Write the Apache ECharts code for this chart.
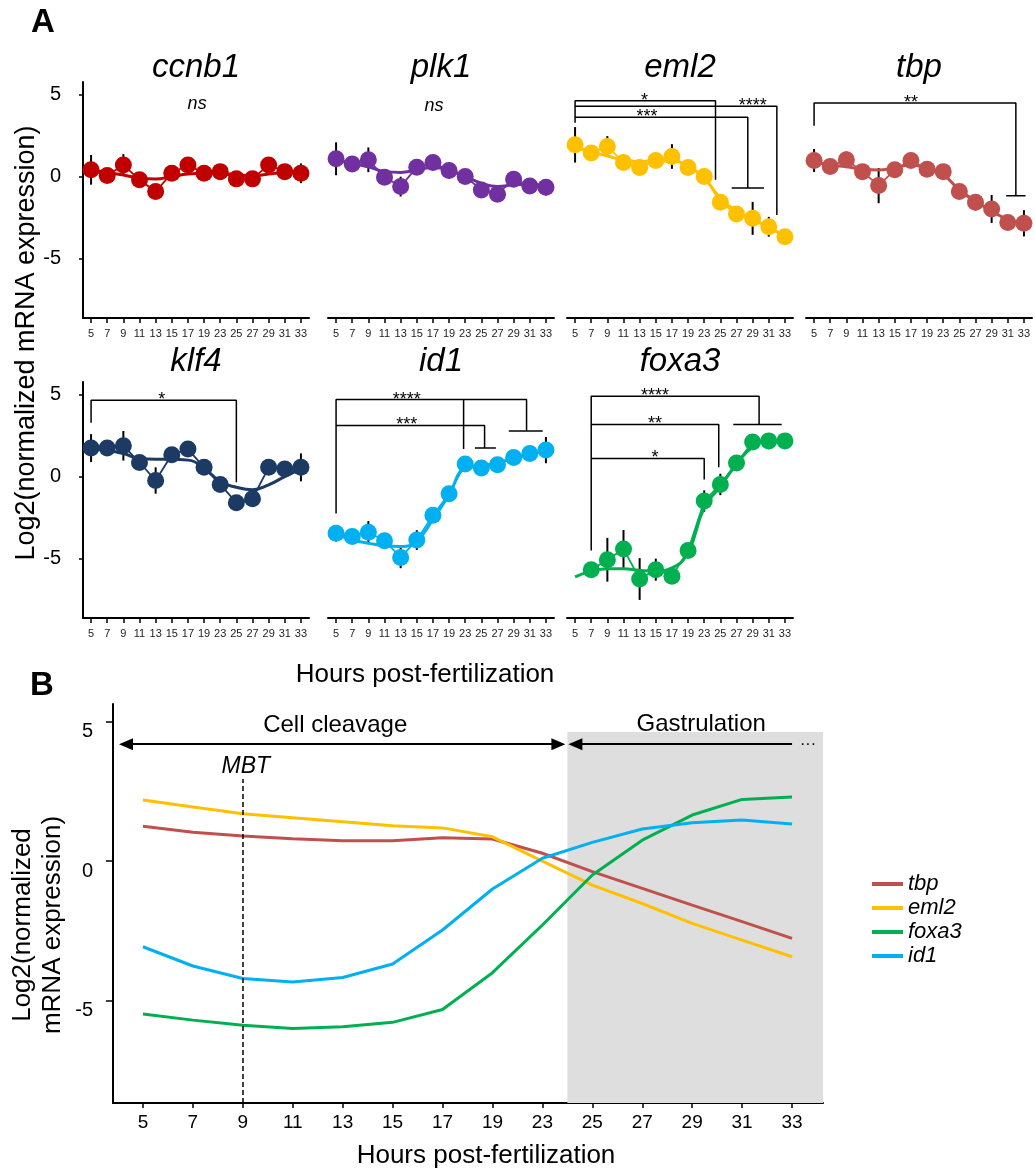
<!DOCTYPE html>
<html>
<head>
<meta charset="utf-8">
<script src="https://cdn.jsdelivr.net/npm/echarts@6/dist/echarts.min.js"></script>
<style>
html, body { margin: 0; padding: 0; background: #fff; }
#chart { width: 1035px; height: 1174px; }
</style>
</head>
<body>
<div id="chart"></div>
<script>
const hours = ['5', '7', '9', '11', '13', '15', '17', '19', '23', '25', '27', '29', '31', '33'];
const yTicks = [-5, 0, 5];

// panel A: means, error bars, fitted curve
const ccnb1Mean = [0.41, 0.06, 0.71, -0.2, -0.91, 0.2, 0.71, 0.2, 0.3, -0.14, -0.14, 0.71, 0.3, 0.2];
const ccnb1Err = [0.9, 0.3, 0.65, 0.3, 0.3, 0.3, 0.3, 0.3, 0.3, 0.2, 0.2, 0.3, 0.3, 0.6];
const ccnb1Fit = [0.4, 0.25, 0.1, -0.1, -0.15, 0.0, 0.15, 0.2, 0.2, 0.1, 0.05, 0.15, 0.25, 0.25];

const plk1Mean = [1.08, 0.77, 1.02, -0.04, -0.61, 0.57, 0.85, 0.37, 0.0, -0.81, -1.07, -0.16, -0.57, -0.65];
const plk1Err = [1.0, 0.3, 0.75, 0.3, 0.6, 0.3, 0.3, 0.5, 0.3, 0.3, 0.3, 0.3, 0.3, 0.5];
const plk1Fit = [1.0, 0.8, 0.6, 0.3, 0.25, 0.4, 0.55, 0.4, 0.0, -0.4, -0.6, -0.5, -0.45, -0.6];

const eml2Mean = [1.93, 1.43, 1.83, 0.86, 0.55, 0.98, 1.22, 0.55, 0.0, -1.56, -2.27, -2.54, -3.05, -3.66];
const eml2Err = [1.08, 0.3, 0.63, 0.4, 0.3, 0.3, 0.75, 0.3, 0.3, 0.3, 0.3, 1.0, 0.6, 0.3];
const eml2Fit = [1.8, 1.5, 1.25, 1.0, 0.9, 0.95, 0.95, 0.6, -0.1, -1.3, -2.1, -2.6, -3.1, -3.6];

const tbpMean = [0.98, 0.61, 1.02, 0.3, -0.55, 0.41, 0.98, 0.45, 0.3, -0.91, -1.56, -1.97, -2.8, -2.84];
const tbpErr = [0.7, 0.3, 0.5, 0.3, 1.07, 0.3, 0.3, 0.3, 0.3, 0.3, 0.5, 0.85, 0.3, 0.8];
const tbpFit = [0.9, 0.7, 0.6, 0.45, 0.4, 0.55, 0.7, 0.5, 0.1, -0.8, -1.5, -2.1, -2.6, -2.9];

const klf4Mean = [1.73, 1.73, 1.87, 0.86, -0.24, 1.33, 1.67, 0.56, -0.48, -1.59, -1.35, 0.56, 0.46, 0.56];
const klf4Err = [0.85, 0.3, 0.9, 0.3, 0.8, 0.3, 0.4, 0.3, 0.3, 0.3, 0.3, 0.3, 0.3, 0.85];
const klf4Fit = [1.7, 1.6, 1.4, 1.1, 1.05, 1.05, 1.0, 0.5, -0.3, -0.65, -0.8, -0.5, 0.0, 0.45];

const id1Mean = [-3.45, -3.65, -3.39, -3.9, -4.92, -3.86, -2.35, -1.04, 0.76, 0.52, 0.72, 1.16, 1.4, 1.61];
const id1Err = [0.5, 0.4, 0.68, 0.3, 0.65, 0.6, 0.3, 0.3, 0.3, 0.3, 0.3, 0.3, 0.3, 0.8];
const id1Fit = [-3.5, -3.85, -4.05, -4.2, -4.25, -3.9, -2.6, -1.1, 0.5, 0.65, 0.85, 1.1, 1.35, 1.55];

const foxa3Mean = [null, -5.66, -5.06, -4.4, -6.23, -5.66, -6.06, -4.5, -1.49, -0.48, 0.82, 2.1, 2.17, 2.17];
const foxa3Err = [null, 0.3, 1.33, 1.15, 1.27, 0.67, 0.3, 0.3, 0.65, 0.65, 0.3, 0.3, 0.3, 0.3];
const foxa3Fit = [-6.1, -5.75, -5.6, -5.6, -5.7, -5.75, -5.55, -4.6, -1.9, -0.6, 0.75, 1.8, 2.15, 2.2];

// significance brackets (x = hour index, y = log2 value) and their labels
const eml2Brackets = [
  [[0, 3.27], [0, 4.61], [8.7, 4.61], [8.7, -0.2]],
  [[0, 4.27], [12.5, 4.27], [12.5, -2.34]],
  [[0, 3.6], [10.7, 3.6], [10.7, -0.7]],
  [[9.7, -0.7], [11.7, -0.7]]
];
const eml2Stars = [['*', 4.3, 4.61], ['****', 11.0, 4.27], ['***', 4.45, 3.6]];
const tbpBrackets = [
  [[0, 3.09], [0, 4.47], [12.5, 4.47], [12.5, -1.16]],
  [[11.9, -1.16], [13.1, -1.16]]
];
const tbpStars = [['**', 6.0, 4.47]];
const klf4Brackets = [[[0, 3.27], [0, 4.64], [9.0, 4.64], [9.0, -0.34]]];
const klf4Stars = [['*', 4.38, 4.64]];
const id1Brackets = [
  [[0, -2.25], [0, 4.68], [11.8, 4.68], [11.8, 2.77]],
  [[10.7, 2.77], [12.8, 2.77]],
  [[7.9, 4.68], [7.9, 1.67]],
  [[0, 3.11], [9.2, 3.11], [9.2, 1.73]],
  [[8.6, 1.73], [9.9, 1.73]]
];
const id1Stars = [['****', 4.38, 4.68], ['***', 4.38, 3.11]];
const foxa3Brackets = [
  [[1, -4.5], [1, 4.88], [11.4, 4.88], [11.4, 3.17]],
  [[9.8, 3.17], [12.8, 3.17]],
  [[1, 3.17], [8.9, 3.17], [8.9, 0.56]],
  [[1, 1.1], [8.0, 1.1], [8.0, -0.18]]
];
const foxa3Stars = [['****', 4.95, 4.88], ['**', 4.95, 3.17], ['*', 4.95, 1.1]];
const nsCcnb1 = [['ns', 6.57, 4.4]];
const nsPlk1 = [['ns', 6.07, 4.3]];

// panel B: fitted trends
const legendNames = ['tbp', 'eml2', 'foxa3', 'id1'];
const tbpTrend = [1.25, 1.03, 0.9, 0.8, 0.73, 0.73, 0.84, 0.79, 0.28, -0.38, -0.98, -1.58, -2.17, -2.77];
const eml2Trend = [2.19, 1.94, 1.7, 1.55, 1.41, 1.27, 1.19, 0.87, 0.0, -0.86, -1.52, -2.23, -2.83, -3.43];
const foxa3Trend = [-5.48, -5.7, -5.88, -6.0, -5.94, -5.78, -5.32, -4.0, -2.29, -0.5, 0.75, 1.65, 2.21, 2.3];
const id1Trend = [-3.07, -3.76, -4.21, -4.33, -4.17, -3.69, -2.47, -1.0, 0.1, 0.67, 1.15, 1.37, 1.47, 1.33];

const FONT = 'Liberation Sans, Arial, Helvetica, sans-serif';
const tickIdx = hours.map((h, i) => i);

const panels = [
  { name: 'ccnb1', color: '#c00000', mean: ccnb1Mean, err: ccnb1Err, fit: ccnb1Fit, brackets: [], stars: nsCcnb1, ns: true },
  { name: 'plk1', color: '#7030a0', mean: plk1Mean, err: plk1Err, fit: plk1Fit, brackets: [], stars: nsPlk1, ns: true },
  { name: 'eml2', color: '#ffc000', mean: eml2Mean, err: eml2Err, fit: eml2Fit, brackets: eml2Brackets, stars: eml2Stars },
  { name: 'tbp', color: '#c0504d', mean: tbpMean, err: tbpErr, fit: tbpFit, brackets: tbpBrackets, stars: tbpStars },
  { name: 'klf4', color: '#1c3a63', mean: klf4Mean, err: klf4Err, fit: klf4Fit, brackets: klf4Brackets, stars: klf4Stars },
  { name: 'id1', color: '#00b0f0', mean: id1Mean, err: id1Err, fit: id1Fit, brackets: id1Brackets, stars: id1Stars },
  { name: 'foxa3', color: '#00b050', mean: foxa3Mean, err: foxa3Err, fit: foxa3Fit, brackets: foxa3Brackets, stars: foxa3Stars }
];

const colLeft = [83, 328, 567, 806];
const rowTop = [82, 382];
const titleY = [68, 362];

const grids = [], xAxes = [], yAxes = [], series = [], graphics = [];

const errorBarRender = (params, api) => {
  const lo = api.coord([api.value(0), api.value(1)]);
  const hi = api.coord([api.value(0), api.value(2)]);
  return {
    type: 'line',
    shape: { x1: lo[0], y1: lo[1], x2: hi[0], y2: hi[1] },
    style: { stroke: '#000', lineWidth: 2 }
  };
};

const textEl = (text, x, y, size, extra) => Object.assign({
  type: 'text', x: x, y: y,
  style: Object.assign({
    text: text, fill: '#000', fontSize: size, fontFamily: FONT,
    align: 'center', verticalAlign: 'middle', textAlign: 'center', textVerticalAlign: 'middle'
  }, extra || {})
});

// plain black text label, no halo, full opacity
const plainLabel = {
  show: true, position: 'inside', formatter: '{b}', color: '#000', opacity: 1,
  textBorderWidth: 0, textBorderColor: 'transparent', fontFamily: FONT
};
const textOnly = {
  type: 'scatter', silent: true, symbolSize: 0,
  itemStyle: { color: '#000', opacity: 1 },
  emphasis: { disabled: true }
};

panels.forEach((p, i) => {
  const row = i < 4 ? 0 : 1;
  const col = i % 4;
  grids.push({ left: colLeft[col], top: rowTop[row], width: 226, height: 236 });
  xAxes.push({
    type: 'value', gridIndex: i, min: -0.5, max: 13.5,
    axisLine: { show: true, onZero: false, lineStyle: { color: '#000', width: 2 } },
    axisTick: { show: true, customValues: tickIdx, length: 5, lineStyle: { color: '#000', width: 1.5 } },
    axisLabel: { customValues: tickIdx, formatter: v => hours[Math.round(v)], fontSize: 11, margin: 10, color: '#222', fontFamily: FONT },
    splitLine: { show: false }
  });
  if (col === 0) {
    yAxes.push({
      type: 'value', gridIndex: i, min: -8.6, max: 5.75,
      axisLine: { show: true, onZero: false, lineStyle: { color: '#000', width: 2 } },
      axisTick: { show: true, customValues: yTicks, length: 4, lineStyle: { color: '#000', width: 1.5 } },
      axisLabel: { customValues: yTicks, fontSize: 20, margin: 22, color: '#000', fontFamily: FONT },
      splitLine: { show: false }
    });
  } else {
    yAxes.push({ type: 'value', gridIndex: i, min: -8.6, max: 5.75, show: false });
  }

  const pts = p.mean.map((v, k) => [k, v]).filter(d => d[1] != null);
  const bars = p.mean.map((v, k) => v == null ? null : [k, v - p.err[k], v + p.err[k]]).filter(d => d);

  series.push({
    type: 'custom', xAxisIndex: i, yAxisIndex: i, z: 1, silent: true,
    data: bars, renderItem: errorBarRender
  });
  series.push({
    type: 'line', xAxisIndex: i, yAxisIndex: i, z: 2, silent: true, smooth: 0.5,
    data: p.fit.map((v, k) => [k, v]), symbol: 'none',
    lineStyle: { color: p.color, width: 3 }
  });
  series.push({
    type: 'line', xAxisIndex: i, yAxisIndex: i, z: 2, silent: true,
    data: pts, symbol: 'none', lineStyle: { color: p.color, width: 1.8 }
  });
  series.push({
    type: 'scatter', xAxisIndex: i, yAxisIndex: i, z: 3, silent: true,
    data: pts, symbolSize: 17, itemStyle: { color: p.color, opacity: 1 }
  });
  p.brackets.forEach(path => {
    series.push({
      type: 'line', xAxisIndex: i, yAxisIndex: i, z: 4, silent: true,
      data: path, symbol: 'none', lineStyle: { color: '#000', width: 1.5 }
    });
  });
  series.push(Object.assign({}, textOnly, {
    xAxisIndex: i, yAxisIndex: i, z: 5,
    data: p.stars.map(s => ({ name: s[0], value: [s[1], s[2]] })),
    label: Object.assign({}, plainLabel, { fontSize: 18, fontStyle: p.ns ? 'italic' : 'normal' })
  }));

  graphics.push(textEl(p.name, colLeft[col] + 113, titleY[row], 33, { fontStyle: 'italic' }));
});

// panel B
const bi = panels.length;
grids.push({ left: 113, top: 704, width: 710, height: 399 });
xAxes.push({
  type: 'value', gridIndex: bi, min: -0.6, max: 13.62,
  axisLine: { show: true, onZero: false, lineStyle: { color: '#000', width: 2 } },
  axisTick: { show: true, customValues: tickIdx, length: 5, lineStyle: { color: '#000', width: 1.5 } },
  axisLabel: { customValues: tickIdx, formatter: v => hours[Math.round(v)], fontSize: 19, margin: 10, color: '#000', fontFamily: FONT },
  splitLine: { show: false }
});
yAxes.push({
  type: 'value', gridIndex: bi, min: -8.67, max: 5.63,
  axisLine: { show: true, onZero: false, lineStyle: { color: '#000', width: 2 } },
  axisTick: { show: true, customValues: yTicks, length: 7, lineStyle: { color: '#000', width: 1.5 } },
  axisLabel: { customValues: yTicks, fontSize: 20, margin: 20, color: '#000', verticalAlign: 'top', fontFamily: FONT },
  splitLine: { show: false }
});

const trendColors = ['#c0504d', '#ffc000', '#00b050', '#00b0f0'];
[tbpTrend, eml2Trend, foxa3Trend, id1Trend].forEach((arr, k) => {
  const s = {
    name: legendNames[k], type: 'line', xAxisIndex: bi, yAxisIndex: bi, z: 3, silent: true,
    data: arr.map((v, j) => [j, v]), symbol: 'none',
    itemStyle: { color: trendColors[k] },
    lineStyle: { color: trendColors[k], width: 3 }
  };
  if (k === 0) {
    s.markArea = {
      silent: true, itemStyle: { color: '#dedede' },
      data: [[{ xAxis: 8.5, yAxis: -8.67 }, { xAxis: 13.62, yAxis: 4.63 }]]
    };
    s.markLine = {
      silent: true, animation: false, label: { show: false },
      data: [
        [{ coord: [2, -8.67], symbol: 'none', lineStyle: { type: [5, 3], width: 1.5, color: '#000' } }, { coord: [2, 2.94], symbol: 'none' }],
        [{ coord: [-0.34, 4.19], symbol: 'triangle', symbolSize: [12, 14], lineStyle: { type: 'solid', width: 2, color: '#000' } },
         { coord: [8.32, 4.19], symbol: 'triangle', symbolSize: [12, 14] }],
        [{ coord: [8.66, 4.19], symbol: 'triangle', symbolSize: [12, 14], lineStyle: { type: 'solid', width: 2, color: '#000' } },
         { coord: [13, 4.19], symbol: 'none', label: { show: true, position: 'end', formatter: '···', distance: 8, color: '#000', fontSize: 16 } }]
      ]
    };
  }
  series.push(s);
});
series.push(Object.assign({}, textOnly, {
  xAxisIndex: bi, yAxisIndex: bi, z: 6,
  data: [
    { name: 'Cell cleavage', value: [3.85, 4.87] },
    { name: 'Gastrulation', value: [11.18, 4.91] },
    { name: 'MBT', value: [2.06, 3.4], label: { fontStyle: 'italic', fontSize: 23 } }
  ],
  label: Object.assign({}, plainLabel, { fontSize: 24 })
}));

// figure texts
graphics.push(textEl('A', 43, 23, 33, { fontWeight: 'bold' }));
graphics.push(textEl('B', 42, 686, 33, { fontWeight: 'bold' }));
graphics.push(Object.assign(textEl('Log2(normalized mRNA expression)', 27, 343, 27), { rotation: Math.PI / 2 }));
graphics.push(textEl('Hours post-fertilization', 425, 675, 26));
graphics.push(Object.assign(textEl('Log2(normalized\nmRNA expression)', 38, 925, 26, { lineHeight: 30 }), { rotation: Math.PI / 2 }));
graphics.push(textEl('Hours post-fertilization', 486, 1156, 26));

const chart = echarts.init(document.getElementById('chart'));
chart.setOption({
  animation: false,
  backgroundColor: '#fff',
  textStyle: { fontFamily: FONT },
  grid: grids,
  xAxis: xAxes,
  yAxis: yAxes,
  legend: {
    data: legendNames, orient: 'vertical', left: 867, top: 868,
    icon: 'rect', itemWidth: 31, itemHeight: 4, itemGap: 2,
    textStyle: { fontSize: 22, fontStyle: 'italic', color: '#000', fontFamily: FONT }
  },
  graphic: graphics,
  series: series
});
</script>
</body>
</html>
